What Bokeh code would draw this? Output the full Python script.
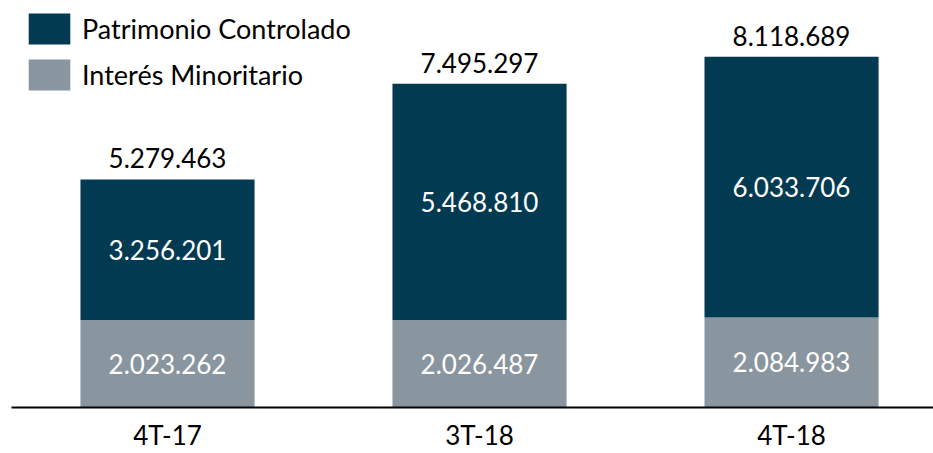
from bokeh.plotting import figure
from bokeh.models import Range1d, FixedTicker, Legend, LegendItem, ColumnDataSource
from bokeh.core.properties import value
from bokeh.embed import file_html
from bokeh.resources import INLINE

periods = ["4T-17", "3T-18", "4T-18"]
minoritario = [2023262, 2026487, 2084983]
controlado = [3256201, 5468810, 6033706]
totals = [5279463, 7495297, 8118689]

FONT = "Lato"
DARK = "#023A52"
GREY = "#8A969F"


def fmt(v):
    return f"{v:,}".replace(",", ".")


x = list(range(len(periods)))
src = ColumnDataSource(dict(
    x=x,
    minoritario=minoritario,
    controlado=controlado,
    total=totals,
    total_txt=[fmt(v) for v in totals],
    min_mid=[m / 2 for m in minoritario],
    min_txt=[fmt(v) for v in minoritario],
    con_mid=[m + c / 2 for m, c in zip(minoritario, controlado)],
    con_txt=[fmt(v) for v in controlado],
))

p = figure(width=933, height=453,
           x_range=Range1d(-0.5, 2.455), y_range=Range1d(0, 9.423e6),
           output_backend="svg", toolbar_location=None,
           y_axis_location=None,
           min_border_left=11, min_border_right=0, min_border_top=0, min_border_bottom=46)
p.outline_line_color = None
p.xgrid.visible = False
p.ygrid.visible = False

renderers = p.vbar_stack(["minoritario", "controlado"], x="x", width=0.558,
                         color=[GREY, DARK], line_color=None, source=src)

p.text(x="x", y="total", text="total_txt", source=src, text_align="center",
       text_baseline="middle", y_offset=-21, text_font=value(FONT),
       text_font_size="26px", text_color="#000000")
p.text(x="x", y="con_mid", text="con_txt", source=src, text_align="center",
       text_baseline="middle", text_font=value(FONT),
       text_font_size="26px", text_color="#FFFFFF")
p.text(x="x", y="min_mid", text="min_txt", source=src, text_align="center",
       text_baseline="middle", text_font=value(FONT),
       text_font_size="26px", text_color="#FFFFFF")

ax = p.xaxis[0]
ax.ticker = FixedTicker(ticks=x)
ax.major_label_overrides = {i: s for i, s in enumerate(periods)}
ax.axis_line_width = 2
ax.axis_line_color = "#000000"
ax.major_tick_line_color = None
ax.minor_tick_line_color = None
ax.major_tick_in = 0
ax.major_tick_out = 0
ax.minor_tick_in = 0
ax.minor_tick_out = 0
ax.major_label_standoff = 11
ax.major_label_text_font = FONT
ax.major_label_text_font_size = "26px"
ax.major_label_text_color = "#000000"

legend = Legend(items=[LegendItem(label="Patrimonio Controlado", renderers=[renderers[1]]),
                       LegendItem(label="Interés Minoritario", renderers=[renderers[0]])],
                location=(12, 313), glyph_width=52, glyph_height=39, label_height=39,
                spacing=7, padding=0, margin=0, label_standoff=7,
                border_line_color=None, background_fill_alpha=0,
                label_text_font=FONT, label_text_font_size="27px",
                label_text_color="#000000")
p.add_layout(legend)

open("out.html", "w").write(file_html(p, INLINE))
